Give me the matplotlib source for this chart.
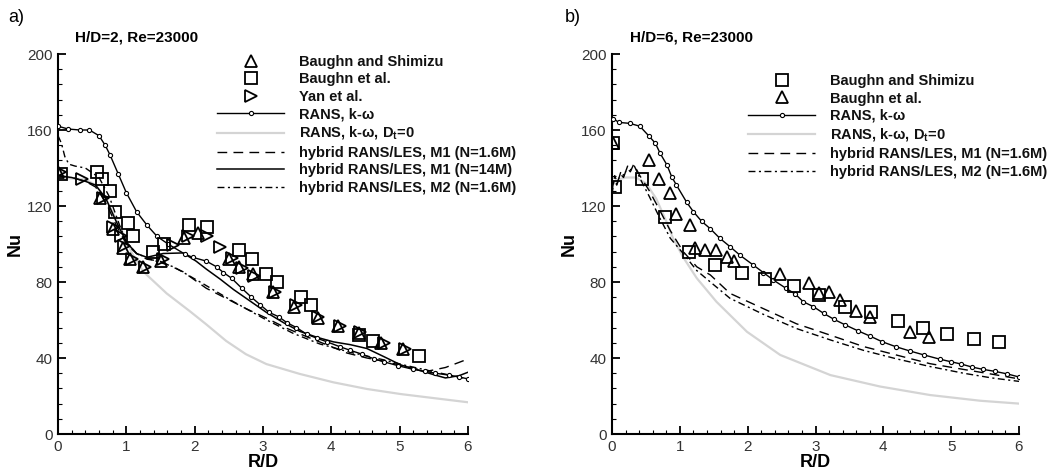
import numpy as np
import matplotlib
matplotlib.use("Agg")
import matplotlib.pyplot as plt
from matplotlib.lines import Line2D

plt.rcParams["font.family"] = ["Liberation Sans", "DejaVu Sans"]
plt.rcParams["mathtext.fontset"] = "custom"
plt.rcParams["mathtext.rm"] = "Liberation Sans"
plt.rcParams["mathtext.bf"] = "Liberation Sans:bold"

# ---------------- panel a) H/D=2 ----------------
a_shim_x = [0.0, 0.62, 0.8, 0.95, 1.05, 1.25, 1.5, 1.85, 2.05, 2.5, 2.65, 2.85, 3.15, 3.45, 3.8, 4.1, 4.4, 4.72, 5.05]
a_shim_y = [138, 124, 108, 98, 92, 88, 91, 103, 106, 92, 88, 84, 75, 67, 61, 57, 53, 48, 45]

a_baughn_x = [0.05, 0.57, 0.64, 0.76, 0.84, 1.03, 1.1, 1.39, 1.55, 1.91, 2.18, 2.65, 2.84, 3.05, 3.2, 3.56, 3.7, 4.41, 4.61, 5.29]
a_baughn_y = [137, 138, 134, 128, 117, 111, 104, 96, 100, 110, 109, 97, 92, 84, 80, 72, 68, 52, 49, 41]

a_yan_x = [0.03, 0.35, 0.66, 0.81, 0.92, 0.96, 1.08, 1.27, 1.54, 1.69, 1.9, 2.18, 2.37, 2.55, 2.69, 2.87, 3.18, 3.48, 3.81, 4.13, 4.42, 4.77, 5.08]
a_yan_y = [138, 134, 124, 109, 104, 99, 92, 88, 92, 99.5, 104, 104, 98.6, 92.6, 87.6, 83.3, 74.6, 67.7, 61.4, 57, 53.5, 48, 45]

a_rans_x = [0, 0.15, 0.32, 0.46, 0.6, 0.69, 0.76, 0.88, 1.0, 1.15, 1.3, 1.45, 1.61, 1.86, 1.97, 2.17, 2.32, 2.42, 2.54, 2.69,
            2.83, 2.96, 3.09, 3.23, 3.35, 3.49, 3.64, 3.79, 3.93, 4.12, 4.28, 4.45, 4.62, 4.77, 4.97, 5.2, 5.37, 5.52, 5.72, 5.87, 6.0]
a_rans_y = [162, 160.5, 160, 160, 157, 152, 147, 137, 127, 117, 110, 104, 100, 94.6, 93, 91, 88, 85, 82, 76.7,
            72, 68, 64, 61.7, 58.6, 56, 52.5, 50.4, 48.6, 46, 44, 42, 39.6, 38, 36, 34, 33, 32, 31, 30, 29]

a_dt0_x = [0, 0.2, 0.4, 0.55, 0.7, 0.85, 1.0, 1.1, 1.25, 1.59, 1.93, 2.17, 2.46, 2.75, 3.05, 3.54, 4.03, 4.52, 5.02, 5.52, 6.0]
a_dt0_y = [135, 134.5, 134, 131, 124, 113, 102, 94, 85.4, 74, 64.6, 57.7, 49, 42, 36.8, 31.6, 27.2, 23.7, 21, 18.8, 16.7]

a_m1c_x = [0, 0.2, 0.4, 0.55, 0.7, 0.85, 1.0, 1.15, 1.3, 1.49, 1.83, 2.17, 2.46, 2.75, 3.05, 3.35, 3.64, 3.93, 4.23,
           4.52, 4.81, 5.1, 5.4, 5.67, 5.87, 6.0]
a_m1c_y = [136, 135, 133, 130, 122, 110, 100, 95, 92, 91, 85.4, 76.7, 71.4, 66, 61, 55.6, 51.2, 47, 42.6,
           40, 38, 35.4, 33, 35, 37.7, 39.5]

a_m1f_x = [0, 0.2, 0.4, 0.55, 0.7, 0.85, 1.0, 1.15, 1.3, 1.54, 1.83, 2.02, 2.17, 2.37, 2.57, 2.81, 3.05, 3.3, 3.54,
           3.79, 4.03, 4.28, 4.52, 4.77, 5.02, 5.27, 5.52, 5.67, 5.87, 6.0]
a_m1f_y = [136, 135, 133, 131, 124, 112, 101, 95, 93, 95, 95.3, 91, 86.8, 81.6, 76, 70, 64, 58.6, 54,
           50.9, 48.5, 47, 45, 40.7, 36.3, 33.7, 31, 29.5, 30.7, 32.5]

a_m2_x = [0, 0.05, 0.1, 0.16, 0.25, 0.4, 0.6, 0.75, 0.9, 1.0, 1.15, 1.35, 1.69, 2.08, 2.57, 3.0, 3.44, 3.83, 4.28,
          4.77, 5.1, 5.52, 6.0]
a_m2_y = [157, 153, 146, 142, 141, 140, 135, 125, 110, 101, 95, 92, 88, 80, 69.6, 61, 53, 47.4, 43,
          39, 36, 32.6, 29]

# ---------------- panel b) H/D=6 ----------------
b_shim_x = [0.02, 0.04, 0.44, 0.78, 1.14, 1.52, 1.91, 2.26, 2.69, 3.05, 3.44, 3.82, 4.21, 4.59, 4.94, 5.33, 5.71]
b_shim_y = [153, 130, 134, 114, 96, 89, 84.6, 81.6, 78, 73, 66.6, 64.4, 59.7, 56, 52.6, 49.8, 48.6]

b_baughn_x = [0.02, 0.55, 0.7, 0.86, 0.94, 1.15, 1.23, 1.37, 1.53, 1.69, 1.8, 2.47, 2.91, 3.05, 3.2, 3.36, 3.6, 3.8, 4.4, 4.68]
b_baughn_y = [153, 144, 134, 127, 116, 110, 98, 97, 96.6, 93, 91, 84, 79.3, 74, 74.6, 70.4, 64.7, 61.6, 53.9, 50.9]

b_rans_x = [0.02, 0.1, 0.26, 0.41, 0.54, 0.64, 0.71, 0.81, 0.88, 0.95, 1.1, 1.2, 1.32, 1.45, 1.59, 1.74, 1.89, 2.08, 2.23,
            2.38, 2.56, 2.7, 2.82, 2.97, 3.12, 3.27, 3.44, 3.62, 3.8, 3.98, 4.18, 4.39, 4.6, 4.83, 5.0, 5.15, 5.3, 5.47,
            5.64, 5.83, 6.0]
b_rans_y = [166, 164, 163.5, 162, 157, 153, 147.7, 141.6, 135.4, 131, 122, 117, 112, 108, 103, 98.6, 94, 89, 85,
            81, 76.8, 73.7, 69.6, 67, 63.5, 60.4, 57.4, 54.4, 51.6, 48.6, 46, 43.7, 41.6, 39.4, 38, 36.8, 35.3, 34,
            33, 31.6, 30]

b_dt0_x = [0, 0.1, 0.2, 0.35, 0.5, 0.65, 0.8, 0.9, 1.05, 1.25, 1.54, 1.99, 2.48, 3.22, 3.95, 4.69, 5.43, 6.0]
b_dt0_y = [132, 134, 135, 135, 132, 124, 112, 103, 93, 82, 69.6, 53.8, 41.6, 31, 25, 20.5, 17.5, 16]

b_m1_x = [0, 0.03, 0.07, 0.12, 0.17, 0.22, 0.27, 0.32, 0.41, 0.55, 0.7, 0.86, 1.05, 1.25, 1.45, 1.74, 2.23, 2.72,
          3.22, 3.71, 4.2, 4.69, 5.18, 5.6, 6.0]
b_m1_y = [128, 134, 131, 137, 135, 140, 138, 142, 136, 128, 118, 107, 96, 88, 83.7, 74, 66, 58,
          52, 46, 41.5, 37, 34, 31.5, 29]

b_m2_x = [0, 0.04, 0.08, 0.13, 0.18, 0.23, 0.28, 0.33, 0.42, 0.55, 0.7, 0.86, 1.05, 1.25, 1.45, 1.74, 2.23, 2.72,
          3.22, 3.71, 4.2, 4.69, 5.18, 5.6, 6.0]
b_m2_y = [126, 136, 132, 138, 136, 141, 139, 141, 134, 125, 114, 103, 95, 86, 80, 71.4, 63, 55.5,
          49.5, 44, 39.5, 35.5, 32, 29.5, 27.7]

lab_rans = "RANS, k-ω"
lab_dt0 = r"RANS, k-ω, D$_\mathbf{t}$=0"
lab_m1c = "hybrid RANS/LES, M1 (N=1.6M)"
lab_m1f = "hybrid RANS/LES, M1 (N=14M)"
lab_m2 = "hybrid RANS/LES, M2 (N=1.6M)"

gray = "#d4d4d4"
mk = dict(linestyle="none", markerfacecolor="none", markeredgecolor="black", markeredgewidth=1.3)
dash = (0, (7, 4.5))
dashdot = (0, (5, 2.5, 1.5, 2.5))

fig = plt.figure(figsize=(10.64, 4.7), dpi=100)
ax1 = fig.add_axes([58 / 1064, 36 / 470, 410 / 1064, 380 / 470])
ax2 = fig.add_axes([612 / 1064, 36 / 470, 407 / 1064, 380 / 470])

# panel a
ax1.plot(a_dt0_x, a_dt0_y, color=gray, lw=1.6, zorder=2)
ax1.plot(a_m1c_x, a_m1c_y, color="black", lw=1.0, linestyle=dash, zorder=3)
ax1.plot(a_m1f_x, a_m1f_y, color="black", lw=1.1, zorder=3)
ax1.plot(a_m2_x, a_m2_y, color="black", lw=1.0, linestyle=dashdot, zorder=3)
ax1.plot(a_rans_x, a_rans_y, color="black", lw=1.0, marker="o", ms=3.0, mfc="white", mew=0.8, zorder=4)
ax1.plot(a_shim_x, a_shim_y, marker="^", ms=8, zorder=5, **mk)
ax1.plot(a_baughn_x, a_baughn_y, marker="s", ms=8, zorder=5, **mk)
ax1.plot(a_yan_x, a_yan_y, marker=">", ms=8, zorder=5, **mk)

# panel b
ax2.plot(b_dt0_x, b_dt0_y, color=gray, lw=1.6, zorder=2)
ax2.plot(b_m1_x, b_m1_y, color="black", lw=1.0, linestyle=dash, zorder=3)
ax2.plot(b_m2_x, b_m2_y, color="black", lw=1.0, linestyle=dashdot, zorder=3)
ax2.plot(b_rans_x, b_rans_y, color="black", lw=1.0, marker="o", ms=3.0, mfc="white", mew=0.8, zorder=4)
ax2.plot(b_shim_x, b_shim_y, marker="s", ms=8, zorder=5, **mk)
ax2.plot(b_baughn_x, b_baughn_y, marker="^", ms=8, zorder=5, **mk)

for ax in (ax1, ax2):
    ax.set_xlim(0, 6)
    ax.set_ylim(0, 200)
    ax.set_xticks(np.arange(0, 7, 1))
    ax.set_yticks(np.arange(0, 201, 40))
    ax.set_xticks(np.arange(0, 6.01, 0.2), minor=True)
    ax.set_yticks(np.arange(0, 201, 8), minor=True)
    ax.spines["top"].set_visible(False)
    ax.spines["right"].set_visible(False)
    ax.spines["left"].set_linewidth(1.5)
    ax.spines["bottom"].set_linewidth(1.5)
    ax.tick_params(which="major", direction="in", length=5.5, width=1.3, labelsize=11, pad=4, colors="black")
    ax.tick_params(which="minor", direction="in", length=2.8, width=0.8)
    ax.tick_params(axis="both", labelcolor="#333333")
    ax.set_xlabel("R/D", fontsize=13, fontweight="bold", labelpad=0)
    ax.set_ylabel("Nu", fontsize=13, fontweight="bold", labelpad=2)
    ax.patch.set_visible(False)

fig.text(8 / 1064, 1 - 18 / 470, "a)", fontsize=13, va="center", ha="left")
fig.text(565 / 1064, 1 - 18 / 470, "b)", fontsize=13, va="center", ha="left")
fig.text(75 / 1064, 1 - 37 / 470, "H/D=2, Re=23000", fontsize=11, fontweight="bold", va="center", ha="left")
fig.text(630 / 1064, 1 - 37 / 470, "H/D=6, Re=23000", fontsize=11, fontweight="bold", va="center", ha="left")


def line_handle(**kw):
    return Line2D([], [], **kw)


h_tri = line_handle(marker="^", ms=8, **mk)
h_sq = line_handle(marker="s", ms=8, **mk)
h_rt = line_handle(marker=">", ms=8, **mk)
h_rans = line_handle(color="black", lw=1.0, marker="o", ms=3.0, mfc="white", mew=0.8)
h_dt0 = line_handle(color=gray, lw=1.6)
h_m1c = line_handle(color="black", lw=1.0, linestyle=dash)
h_m1f = line_handle(color="black", lw=1.1)
h_m2 = line_handle(color="black", lw=1.0, linestyle=dashdot)

leg_kw = dict(frameon=False, loc="upper left", borderpad=0, borderaxespad=0, handlelength=4.6,
              handletextpad=1.0, labelspacing=0.24, numpoints=1,
              prop={"weight": "bold", "size": 10.5}, bbox_transform=fig.transFigure)

leg1 = ax1.legend([h_tri, h_sq, h_rt, h_rans, h_dt0, h_m1c, h_m1f, h_m2],
                  ["Baughn and Shimizu", "Baughn et al.", "Yan et al.", lab_rans, lab_dt0, lab_m1c, lab_m1f, lab_m2],
                  bbox_to_anchor=(217 / 1064, 1 - 55 / 470), **leg_kw)
leg2 = ax2.legend([h_sq, h_tri, h_rans, h_dt0, h_m1c, h_m2],
                  ["Baughn and Shimizu", "Baughn et al.", lab_rans, lab_dt0, lab_m1c, lab_m2],
                  bbox_to_anchor=(748 / 1064, 1 - 74 / 470), **leg_kw)
for leg in (leg1, leg2):
    for t in leg.get_texts():
        t.set_color("#111111")

fig.savefig("out.png", dpi=100)
